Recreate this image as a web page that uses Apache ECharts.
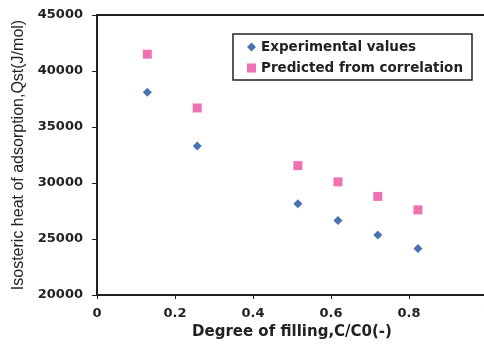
<!DOCTYPE html>
<html><head><meta charset="utf-8">
<script src="https://cdn.jsdelivr.net/npm/echarts@6/dist/echarts.min.js"></script>
<style>html,body{margin:0;padding:0;background:#fff}#c{width:484px;height:345px}</style>
</head><body><div id="c"></div>
<script>
const fillDegree = [0.129, 0.257, 0.515, 0.618, 0.72, 0.823];
const experimental = [38100, 33300, 28150, 26650, 25350, 24150];
const predicted = [41500, 36700, 31550, 30100, 28800, 27600];
const seriesNames = ['Experimental values', 'Predicted from correlation'];
const xName = 'Degree of filling,C/C0(-)';
const yName = 'Isosteric heat of adsorption,Qst(J/mol)';

const chart = echarts.init(document.getElementById('c'), null, {renderer: 'canvas'});
const lab = {fontFamily: 'DejaVu Sans', fontWeight: 'bold', fontSize: 13, color: '#222'};
chart.setOption({
  animation: false,
  backgroundColor: '#fff',
  grid: {left: 97, top: 15, width: 390, height: 280, show: true, borderColor: '#222', borderWidth: 2,
         outerBoundsMode: 'none', containLabel: false},
  legend: {
    orient: 'vertical', left: 233, top: 34, padding: [6, 9, 5, 14],
    borderColor: '#222', borderWidth: 1.5, itemGap: 7, itemWidth: 9, itemHeight: 9,
    textStyle: Object.assign({}, lab, {fontSize: 13.5}),
    data: [{name: seriesNames[0], icon: 'diamond'}, {name: seriesNames[1], icon: 'rect'}]
  },
  xAxis: {
    type: 'value', min: 0, max: 1, interval: 0.2,
    name: xName, nameLocation: 'middle', nameGap: 30,
    nameTextStyle: Object.assign({}, lab, {fontSize: 15}),
    axisLine: {lineStyle: {color: '#222', width: 2}},
    axisTick: {show: true, length: 4, lineStyle: {color: '#222'}},
    axisLabel: Object.assign({}, lab, {margin: 12, showMaxLabel: true, hideOverlap: false, formatter: v => String(v)}),
    splitLine: {show: false}
  },
  yAxis: {
    type: 'value', min: 20000, max: 45000, interval: 5000,
    name: yName, nameLocation: 'middle', nameGap: 70, nameRotate: 90,
    nameTextStyle: {fontFamily: 'Liberation Sans Narrow, Liberation Sans, Arial, sans-serif', fontSize: 16, color: '#222'},
    axisLine: {show: true, lineStyle: {color: '#222', width: 2}},
    axisTick: {show: true, length: 5, lineStyle: {color: '#222'}},
    axisLabel: Object.assign({}, lab, {margin: 14, formatter: v => String(v)}),
    splitLine: {show: false}
  },
  series: [
    {name: seriesNames[0], type: 'scatter', symbol: 'diamond', symbolSize: 9,
     itemStyle: {color: '#1d4f9f'}, data: fillDegree.map((x, i) => [x, experimental[i]])},
    {name: seriesNames[1], type: 'scatter', symbol: 'rect', symbolSize: 9,
     itemStyle: {color: '#ec4d9e'}, data: fillDegree.map((x, i) => [x, predicted[i]])}
  ]
});
</script></body></html>
